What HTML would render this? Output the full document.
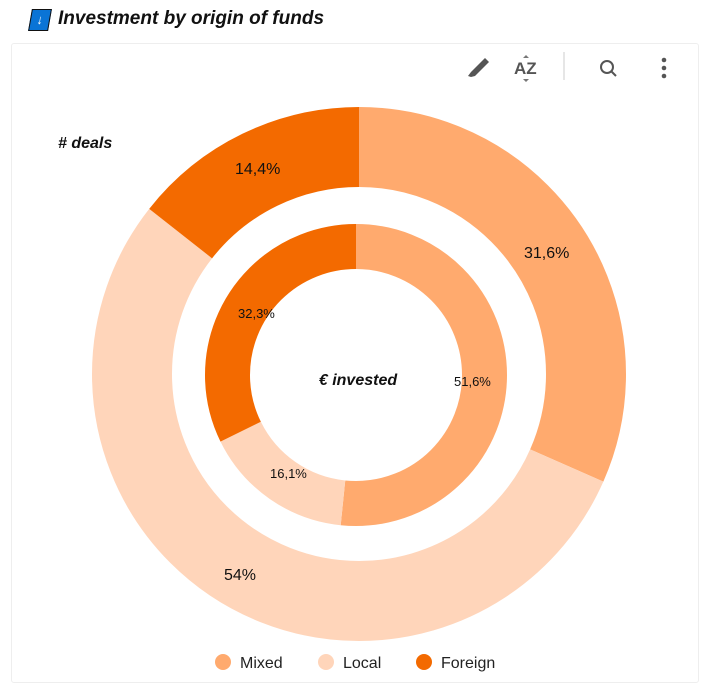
<!DOCTYPE html>
<html><head><meta charset="utf-8"><style>
body{margin:0;width:712px;height:694px;background:#fff;font-family:"Liberation Sans",sans-serif;overflow:hidden;position:relative}
.card{position:absolute;left:11px;top:43px;width:688px;height:640px;border:1px solid #eee;border-radius:3px;box-sizing:border-box}
.title{position:absolute;left:58px;top:8px;font-size:19px;font-weight:bold;font-style:italic;color:#111}
.ic{position:absolute;left:30px;top:9px;width:18px;height:20px;background:#0a74d6;border:1px solid #111;transform:skewX(-10deg);color:#fff;font-size:13px;text-align:center;line-height:20px}
</style></head><body>
<div class="ic">↓</div>
<div class="title">Investment by origin of funds</div>
<div class="card"></div>
<svg width="712" height="694" style="position:absolute;left:0;top:0" font-family="Liberation Sans, sans-serif">
<!-- toolbar -->
<path d="M468 76 l3 -4 l14 -14 l4 4 l-14 14 l-4 1z" fill="#555"/>
<text x="514" y="74" font-size="17" font-weight="bold" fill="#555">AZ</text>
<path d="M523 58 l3 -3 l3 3z M523 79 l3 3 l3 -3z" fill="#777"/>
<line x1="564" y1="52" x2="564" y2="80" stroke="#ddd" stroke-width="1.5"/>
<circle cx="607" cy="67" r="6" fill="none" stroke="#555" stroke-width="2"/>
<line x1="611" y1="71" x2="616" y2="76" stroke="#555" stroke-width="2"/>
<circle cx="664" cy="60" r="2.3" fill="#555"/><circle cx="664" cy="68" r="2.3" fill="#555"/><circle cx="664" cy="76" r="2.3" fill="#555"/>
<g transform="rotate(-90 359 374)" fill="none">
<circle cx="359" cy="374" r="227" stroke="#FFAA6E" stroke-width="80" stroke-dasharray="450.7 2000" stroke-dashoffset="0"/>
<circle cx="359" cy="374" r="227" stroke="#FFD5BA" stroke-width="80" stroke-dasharray="770.2 2000" stroke-dashoffset="-450.7"/>
<circle cx="359" cy="374" r="227" stroke="#F36A00" stroke-width="80" stroke-dasharray="205.4 2000" stroke-dashoffset="-1220.9"/>
</g>
<g transform="rotate(-90 356 375)" fill="none">
<circle cx="356" cy="375" r="128.5" stroke="#FFAA6E" stroke-width="45" stroke-dasharray="416.6 2000" stroke-dashoffset="0"/>
<circle cx="356" cy="375" r="128.5" stroke="#FFD5BA" stroke-width="45" stroke-dasharray="130 2000" stroke-dashoffset="-416.6"/>
<circle cx="356" cy="375" r="128.5" stroke="#F36A00" stroke-width="45" stroke-dasharray="260.8 2000" stroke-dashoffset="-546.6"/>
</g>
<text x="58" y="148" font-size="16" font-weight="bold" font-style="italic" fill="#111">#  deals</text>
<text x="235" y="174" font-size="16" fill="#111">14,4%</text>
<text x="524" y="258" font-size="16" fill="#111">31,6%</text>
<text x="224" y="580" font-size="16" fill="#111">54%</text>
<text x="238" y="318" font-size="13" fill="#111">32,3%</text>
<text x="454" y="386" font-size="13" fill="#111">51,6%</text>
<text x="270" y="478" font-size="13" fill="#111">16,1%</text>
<text x="358" y="385" font-size="16" font-weight="bold" font-style="italic" fill="#111" text-anchor="middle">€ invested</text>
<circle cx="223" cy="662" r="8" fill="#FFAA6E"/><text x="240" y="668" font-size="16" fill="#222">Mixed</text>
<circle cx="326" cy="662" r="8" fill="#FFD5BA"/><text x="343" y="668" font-size="16" fill="#222">Local</text>
<circle cx="424" cy="662" r="8" fill="#F36A00"/><text x="441" y="668" font-size="16" fill="#222">Foreign</text>
</svg>
</body></html>
